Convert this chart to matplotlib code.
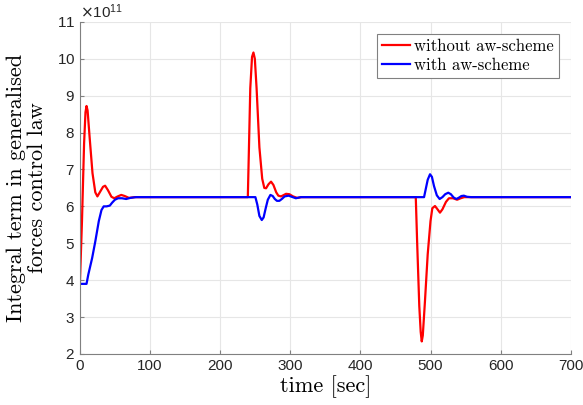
import numpy as np
import matplotlib.pyplot as plt
from matplotlib import ticker

# values, in units of 1e11
SCALE = 1e11

t_red = [0, 3, 6, 8, 9.5, 11, 14, 18, 22, 25, 29, 33, 36, 40, 45, 49, 54, 59, 64, 70, 78,
         239.5, 241, 243, 245.5, 247.5, 249.5, 252, 256, 260, 263, 265.5, 269, 272.6, 276, 280, 283,
         286.8, 290, 294, 298.7, 304, 310, 316, 322,
         479, 481, 484, 486, 487.5, 489, 492, 496, 500, 502.6, 506.4, 510, 513.5, 517, 522, 526.3,
         532, 538, 543, 548, 700]
y_red = [3.9, 5.6, 7.7, 8.55, 8.72, 8.6, 7.85, 6.9, 6.38, 6.27, 6.4, 6.53, 6.56, 6.44, 6.26, 6.22, 6.27, 6.31, 6.28, 6.23, 6.25,
         6.25, 7.5, 9.2, 10.05, 10.17, 10.0, 9.2, 7.6, 6.75, 6.5, 6.49, 6.6, 6.67, 6.58, 6.38, 6.29,
         6.27, 6.3, 6.34, 6.33, 6.27, 6.23, 6.25, 6.25,
         6.25, 5.0, 3.3, 2.6, 2.34, 2.5, 3.4, 4.7, 5.6, 5.95, 6.01, 5.92, 5.83, 5.92, 6.12, 6.22,
         6.22, 6.18, 6.22, 6.25, 6.25]

t_blue = [0, 9.5, 12, 17.5, 22, 27, 30.8, 34, 38, 42.7, 46, 50, 54.5, 60, 66, 72, 80,
          250.3, 253, 256, 259.4, 262, 265, 268, 271.7, 275, 278, 281, 284.5, 288, 292, 297.7,
          302, 308, 315, 330,
          490.8, 493, 496, 499.3, 502, 505, 509, 513, 517, 521, 525.3, 529, 533, 536.7, 540, 544,
          547.6, 552, 558, 700]
y_blue = [3.9, 3.9, 4.15, 4.6, 5.05, 5.6, 5.9, 6.0, 6.0, 6.02, 6.1, 6.18, 6.22, 6.22, 6.2, 6.23, 6.25,
          6.25, 6.05, 5.74, 5.63, 5.7, 5.95, 6.18, 6.31, 6.28, 6.2, 6.15, 6.15, 6.2, 6.27, 6.29,
          6.26, 6.22, 6.25, 6.25,
          6.25, 6.45, 6.72, 6.87, 6.8, 6.55, 6.3, 6.2, 6.25, 6.33, 6.37, 6.33, 6.24, 6.2, 6.23, 6.28,
          6.29, 6.26, 6.25, 6.25]

plt.rcParams['font.family'] = 'Liberation Sans'

fig = plt.figure(figsize=(5.83, 4.05), dpi=100)
ax = fig.add_axes([0.137, 0.126, 0.842, 0.82])

ax.plot(t_red, np.array(y_red) * SCALE, color='#ff0000', linewidth=1.6, label='without aw-scheme')
ax.plot(t_blue, np.array(y_blue) * SCALE, color='#0000ff', linewidth=1.6, label='with aw-scheme')

ax.set_xlim(0, 700)
ax.set_ylim(2e11, 11e11)
ax.set_xticks(np.arange(0, 701, 100))
ax.set_yticks(np.arange(2, 12, 1) * SCALE)
fmt = ticker.ScalarFormatter(useMathText=True)
fmt.set_powerlimits((11, 11))
ax.yaxis.set_major_formatter(fmt)
ax.grid(True, color='#e6e6e6', linewidth=0.8)
ax.set_axisbelow(True)

for s in ['top', 'right']:
    ax.spines[s].set_visible(False)
for s in ['left', 'bottom']:
    ax.spines[s].set_color('#808080')
    ax.spines[s].set_linewidth(0.8)
ax.tick_params(direction='in', length=3, color='#808080', labelsize=11, labelcolor='#262626')
ax.yaxis.get_offset_text().set_fontsize(11)
ax.yaxis.get_offset_text().set_color('#262626')

ax.set_xlabel('time [sec]', family='cmr10', fontsize=16, labelpad=2)
ax.set_ylabel('Integral term in generalised\nforces control law', family='cmr10', fontsize=16,
              labelpad=7, linespacing=1.1)

leg = ax.legend(loc='upper right', prop={'family': 'cmr10', 'size': 12}, fancybox=False,
                edgecolor='#808080', framealpha=1, handlelength=1.7, handletextpad=0.25,
                borderpad=0.3, labelspacing=0.25, borderaxespad=0.7)
leg.get_frame().set_linewidth(0.8)

fig.savefig('out.png', dpi=100)
